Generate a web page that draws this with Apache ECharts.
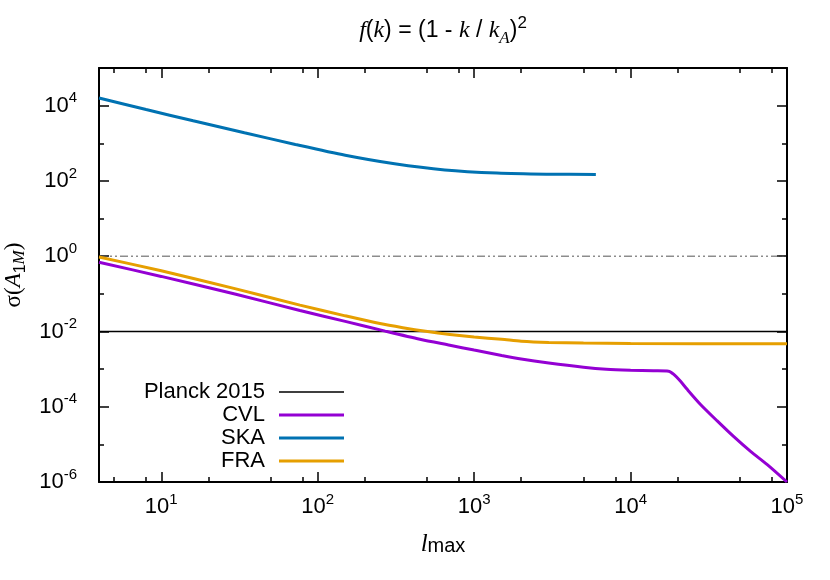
<!DOCTYPE html>
<html>
<head>
<meta charset="utf-8">
<script src="https://cdn.jsdelivr.net/npm/echarts@6/dist/echarts.min.js"></script>
<style>
  html, body { margin: 0; padding: 0; background: #fff; }
  #chart { width: 830px; height: 580px; }
</style>
</head>
<body>
<div id="chart"></div>
<script>
// tick positions
const xMajorTicks = [10, 100, 1000, 10000, 100000];
const xMinorTicks = [5, 8, 20, 50, 80, 200, 500, 800, 2000, 5000, 8000, 20000, 50000, 80000];
const yMajorTicks = [1e-6, 1e-4, 1e-2, 1, 1e2, 1e4];
const yMinorTicks = [1e-5, 1e-3, 1e-1, 10, 1e3];

// data
const planckX = [4, 100000];
const planckY = [0.01, 0.01];
const unityX = [4, 100000];
const unityY = [1, 1];

const cvlX = [4, 10, 30, 77, 150, 270, 450, 700, 1000, 1500, 2000, 3000, 5000, 7000, 10000, 14000, 17500,
  18900, 20800, 23000, 28000, 35800, 45700, 58500, 74800, 100000];
const cvlY = [0.69, 0.29, 0.097, 0.036, 0.0185, 0.0102, 0.0062, 0.0043, 0.0032, 0.0023, 0.00185, 0.00145,
  0.00112, 0.00099, 0.00093, 0.0009, 0.00088, 0.00072, 0.00048, 0.00029, 0.000115, 4.2e-5, 1.6e-5, 6.5e-6, 2.9e-6, 1.0e-6];

const skaX = [4, 8, 16, 34, 72, 150, 310, 650, 1400, 2900, 6000];
const skaY = [16000, 7900, 3950, 1900, 930, 480, 285, 196, 162, 151, 148];

const fraX = [4, 10, 30, 77, 150, 250, 350, 490, 700, 1000, 1500, 2000, 3000, 5000, 10000, 100000];
const fraY = [0.95, 0.41, 0.135, 0.05, 0.026, 0.0162, 0.0126, 0.0101, 0.0083, 0.0071, 0.0062, 0.0055,
  0.0051, 0.0049, 0.0048, 0.0047];

const zip = (xs, ys) => xs.map((x, i) => [x, ys[i]]);

const SANS = 'Liberation Sans';
const SERIF = 'Liberation Serif';

const powLabel = {
  color: '#000',
  fontFamily: SANS,
  rich: {
    b: { fontSize: 22, lineHeight: 30, fontFamily: SANS, color: '#000' },
    s: { fontSize: 15, lineHeight: 15, verticalAlign: 'top', fontFamily: SANS, color: '#000' }
  },
  formatter: v => '{b|10}{s|' + Math.round(Math.log10(v)) + '}'
};

function xAx(pos, ticks, len, withLabels) {
  return {
    type: 'log', logBase: 10, min: 4, max: 100000, position: pos,
    axisLine: { show: len > 6, onZero: false, lineStyle: { color: '#000', width: 2 } },
    axisTick: { show: true, inside: true, length: len, customValues: ticks, lineStyle: { color: '#000', width: 1.5 } },
    axisLabel: withLabels ? Object.assign({ show: true, margin: 10, customValues: ticks }, powLabel) : { show: false },
    splitLine: { show: false },
    minorTick: { show: false }
  };
}
function yAx(pos, ticks, len, withLabels) {
  return {
    type: 'log', logBase: 10, min: 1e-6, max: 1e5, position: pos,
    axisLine: { show: len > 6, onZero: false, lineStyle: { color: '#000', width: 2 } },
    axisTick: { show: true, inside: true, length: len, customValues: ticks, lineStyle: { color: '#000', width: 1.5 } },
    axisLabel: withLabels ? Object.assign({ show: true, margin: 22, customValues: ticks }, powLabel) : { show: false },
    splitLine: { show: false },
    minorTick: { show: false }
  };
}

const xAxes = [xAx('bottom', xMajorTicks, 10, true), xAx('top', xMajorTicks, 10, false),
  xAx('bottom', xMinorTicks, 5, false), xAx('top', xMinorTicks, 5, false)];
xAxes[0].name = '{it|l}{sub|max}';
xAxes[0].nameLocation = 'middle';
xAxes[0].nameGap = 50;
xAxes[0].nameTextStyle = {
  color: '#000',
  rich: {
    it: { fontFamily: SERIF, fontStyle: 'italic', fontSize: 25, lineHeight: 24, color: '#000' },
    sub: { fontFamily: SANS, fontSize: 20, lineHeight: 20, verticalAlign: 'bottom', color: '#000' }
  }
};

const yAxes = [yAx('left', yMajorTicks, 10, true), yAx('right', yMajorTicks, 10, false),
  yAx('left', yMinorTicks, 5, false), yAx('right', yMinorTicks, 5, false)];
yAxes[0].name = '{g|σ(}{it|A}{sub|1}{subit|M}{g|)}';
yAxes[0].nameLocation = 'middle';
yAxes[0].nameRotate = 90;
yAxes[0].nameGap = 68;
yAxes[0].nameTextStyle = {
  color: '#000',
  rich: {
    g: { fontFamily: SERIF, fontSize: 23, lineHeight: 28, color: '#000' },
    it: { fontFamily: SERIF, fontStyle: 'italic', fontSize: 23, lineHeight: 28, color: '#000' },
    sub: { fontFamily: SANS, fontSize: 16, lineHeight: 18, verticalAlign: 'bottom', color: '#000' },
    subit: { fontFamily: SERIF, fontStyle: 'italic', fontSize: 17, lineHeight: 18, verticalAlign: 'bottom', color: '#000' }
  }
};

const thinIcon = 'path://M0,0H65M0,0.75H65V2.25H0ZM0,3H65';

const chart = echarts.init(document.getElementById('chart'));
chart.setOption({
  animation: false,
  backgroundColor: '#fff',
  textStyle: { fontFamily: SANS },
  title: {
    text: '{i|f}({i|k}) = (1 - {i|k} / {i|k}{sub|A}){sup|2}',
    left: 443, top: 15, padding: 0, textAlign: 'center',
    textStyle: {
      fontFamily: SANS, fontSize: 23, fontWeight: 'normal', color: '#000', lineHeight: 32,
      rich: {
        i: { fontFamily: SERIF, fontStyle: 'italic', fontSize: 24, lineHeight: 32, color: '#000' },
        sub: { fontFamily: SERIF, fontStyle: 'italic', fontSize: 17, lineHeight: 20, verticalAlign: 'bottom', color: '#000' },
        sup: { fontFamily: SANS, fontSize: 17, lineHeight: 24, verticalAlign: 'top', color: '#000' }
      }
    }
  },
  grid: { left: 99, right: 43, top: 68, bottom: 98, containLabel: false, outerBoundsMode: 'none' },
  legend: {
    orient: 'vertical', align: 'right', right: 486, top: 381, padding: 0,
    itemGap: 1, itemWidth: 65, itemHeight: 3, icon: 'rect', selectedMode: false,
    itemStyle: { borderWidth: 0 },
    data: [{ name: 'Planck 2015', icon: thinIcon }, 'CVL', 'SKA', 'FRA'],
    textStyle: { fontFamily: SANS, fontSize: 22, lineHeight: 22, color: '#000', padding: [0, 9, 0, 0] }
  },
  xAxis: xAxes,
  yAxis: yAxes,
  series: [
    { name: 'Planck 2015', type: 'line', data: zip(planckX, planckY), symbol: 'none',
      lineStyle: { color: '#000', width: 1.5 }, itemStyle: { color: '#000' }, z: 2 },
    { name: 'unity', type: 'line', data: zip(unityX, unityY), symbol: 'none',
      lineStyle: { color: '#555', width: 1, type: [8, 3, 2, 3, 2, 3] }, itemStyle: { color: '#555' }, z: 2 },
    { name: 'CVL', type: 'line', data: zip(cvlX, cvlY), symbol: 'none', smooth: 0.25,
      lineStyle: { color: '#9400d3', width: 3 }, itemStyle: { color: '#9400d3' }, z: 3 },
    { name: 'SKA', type: 'line', data: zip(skaX, skaY), symbol: 'none', smooth: 0.25,
      lineStyle: { color: '#0072b2', width: 3 }, itemStyle: { color: '#0072b2' }, z: 3 },
    { name: 'FRA', type: 'line', data: zip(fraX, fraY), symbol: 'none', smooth: 0.25,
      lineStyle: { color: '#e69f00', width: 3 }, itemStyle: { color: '#e69f00' }, z: 3 }
  ]
});
</script>
</body>
</html>
